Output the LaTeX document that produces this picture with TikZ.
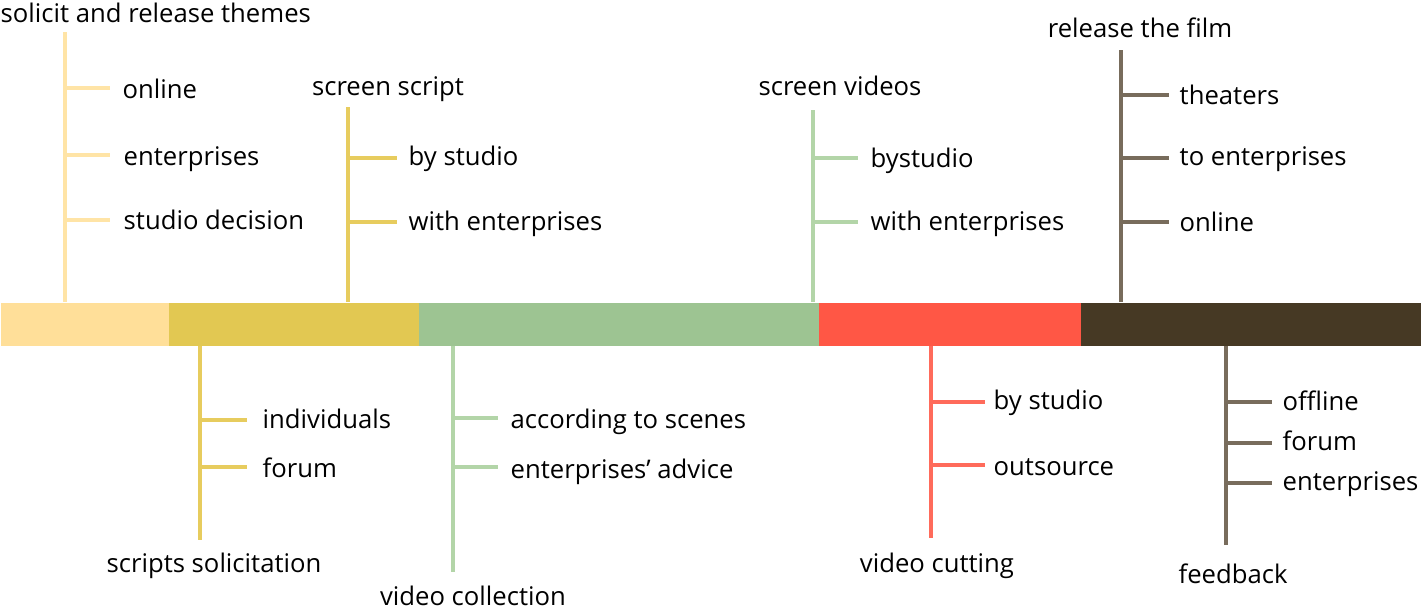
\documentclass[tikz,border=0pt]{standalone}
\usepackage{fontspec}
\setmainfont{Open Sans}
\definecolor{barA}{HTML}{FFDF99}
\definecolor{lineA}{HTML}{FFE4A6}
\definecolor{barB}{HTML}{E2C852}
\definecolor{lineB}{HTML}{E7CC5E}
\definecolor{barC}{HTML}{9DC492}
\definecolor{lineC}{HTML}{B3D5A8}
\definecolor{barD}{HTML}{FF5745}
\definecolor{lineD}{HTML}{FF6B5B}
\definecolor{barE}{HTML}{463924}
\definecolor{lineE}{HTML}{786C5C}
\begin{document}
\begin{tikzpicture}[x=0.01cm,y=-0.01cm,
  lab/.style={font=\fontsize{7.3}{8.8}\selectfont, inner sep=0pt, text height=0.75em, text depth=0.2em},
  sub/.style={lab, anchor=west},
  stemline/.style={line width=1pt},
  seg/.style={draw=none, inner sep=0pt, minimum height=0.43cm, anchor=north west}]
\useasboundingbox (0,0) rectangle (1422,615);
% bar
\node[seg, fill=barA, minimum width=1.68cm] (s1) at (0,302) {};
\node[seg, fill=barB, minimum width=2.50cm] (s2) at (168,302) {};
\node[seg, fill=barC, minimum width=4.00cm] (s3) at (418,302) {};
\node[seg, fill=barD, minimum width=2.62cm] (s4) at (818,302) {};
\node[seg, fill=barE, minimum width=3.40cm] (s5) at (1080,302) {};

% branch 1: solicit and release themes
\node[lab, anchor=west] (t1) at (0,13) {solicit and release themes};
\coordinate (a1) at (65,32);
\draw[stemline, lineA] (a1) -- (s1.north -| a1);
\node[sub] (a1x) at (122,89) {online};
\node[sub] (a1y) at (123,156) {enterprises};
\node[sub] (a1z) at (123,220) {studio decision};
\foreach \n/\yy in {a1x/88, a1y/155, a1z/220}
  \draw[stemline, lineA] (65,\yy) -- (110,\yy);

% branch 2: screen script
\node[lab] (t2) at (388,86) {screen script};
\coordinate (a2) at (348,107);
\draw[stemline, lineB] (a2) -- (s2.north -| a2);
\node[sub] (a2x) at (408,156) {by studio};
\node[sub] (a2y) at (408,221) {with enterprises};
\foreach \yy in {158, 222}
  \draw[stemline, lineB] (348,\yy) -- (397,\yy);

% branch 3: screen videos
\node[lab] (t3) at (840,86) {screen videos};
\coordinate (a3) at (813,110);
\draw[stemline, lineC] (a3) -- (s3.north -| a3);
\node[sub] (a3x) at (870,158) {bystudio};
\node[sub] (a3y) at (870,221) {with enterprises};
\foreach \yy in {158, 222}
  \draw[stemline, lineC] (813,\yy) -- (858,\yy);

% branch 4: release the film
\node[lab] (t4) at (1140,28) {release the film};
\coordinate (a4) at (1121,50);
\draw[stemline, lineE] (a4) -- (s5.north -| a4);
\node[sub] (a4x) at (1179,95) {theaters};
\node[sub] (a4y) at (1179,156) {to enterprises};
\node[sub] (a4z) at (1179,222) {online};
\foreach \yy in {95, 158, 222}
  \draw[stemline, lineE] (1121,\yy) -- (1169,\yy);

% branch 5: scripts solicitation
\coordinate (b1) at (200,540);
\draw[stemline, lineB] (s2.south -| b1) -- (b1);
\node[lab] (u1) at (214,563) {scripts solicitation};
\node[sub] (b1x) at (262,419) {individuals};
\node[sub] (b1y) at (262,468) {forum};
\foreach \yy in {420, 467}
  \draw[stemline, lineB] (200,\yy) -- (247,\yy);

% branch 6: video collection
\coordinate (b2) at (453,572);
\draw[stemline, lineC] (s3.south -| b2) -- (b2);
\node[lab] (u2) at (473,596) {video collection};
\node[sub] (b2x) at (510,419) {according to scenes};
\node[sub] (b2y) at (510,469) {enterprises’ advice};
\foreach \yy in {418, 467}
  \draw[stemline, lineC] (453,\yy) -- (498,\yy);

% branch 7: video cutting
\coordinate (b3) at (931,538);
\draw[stemline, lineD] (s4.south -| b3) -- (b3);
\node[lab] (u3) at (937,563) {video cutting};
\node[sub] (b3x) at (993,400) {by studio};
\node[sub] (b3y) at (993,466) {outsource};
\foreach \yy in {402, 465}
  \draw[stemline, lineD] (931,\yy) -- (985,\yy);

% branch 8: feedback
\coordinate (b4) at (1226,545);
\draw[stemline, lineE] (s5.south -| b4) -- (b4);
\node[lab] (u4) at (1233,574) {feedback};
\node[sub] (b4x) at (1282,401) {offline};
\node[sub] (b4y) at (1282,441) {forum};
\node[sub] (b4z) at (1282,481) {enterprises};
\foreach \yy in {402, 443, 483}
  \draw[stemline, lineE] (1226,\yy) -- (1272,\yy);
\end{tikzpicture}
\end{document}
